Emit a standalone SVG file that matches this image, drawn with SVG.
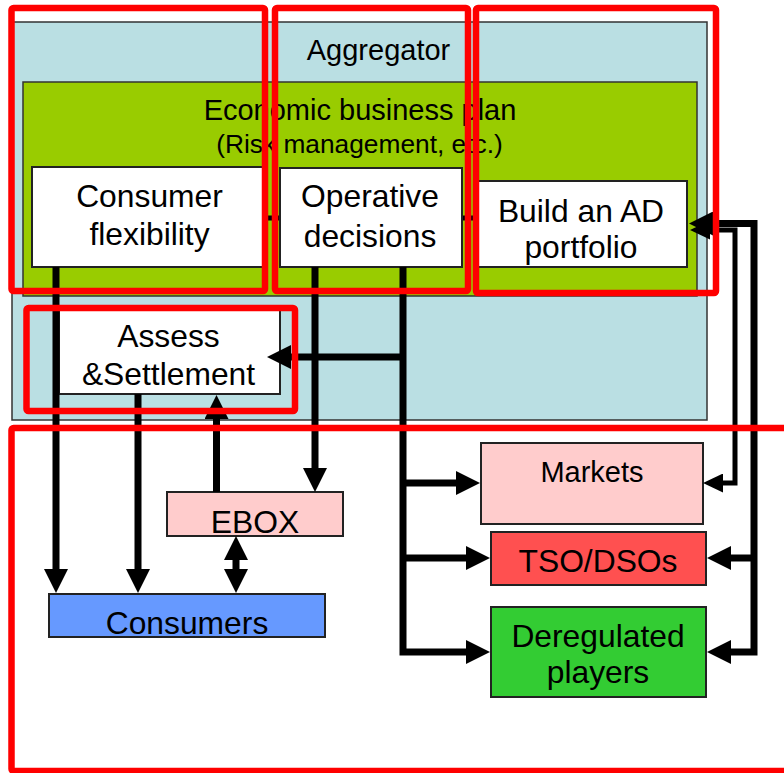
<svg xmlns="http://www.w3.org/2000/svg" width="784" height="773" viewBox="0 0 784 773">
<style>
text{font-family:"Liberation Sans",Arial,sans-serif;fill:#000;text-anchor:middle}
.t31{font-size:31.8px}
.t29{font-size:29px}
.t25{font-size:26.3px}
.box{stroke:#222;stroke-width:2}
.c{fill:none;stroke:#000;stroke-width:7}
.ci{fill:none;stroke:#000;stroke-width:5}
.frame{fill:none;stroke:#ff0000;stroke-width:6.5}
</style>
<defs>
<marker id="ah" markerUnits="userSpaceOnUse" markerWidth="24" markerHeight="24" viewBox="0 0 24 24" refX="1" refY="12" orient="auto-start-reverse">
<path d="M0,0 L24,12 L0,24 z" fill="#000"/>
</marker>
<marker id="ahs" markerUnits="userSpaceOnUse" markerWidth="20" markerHeight="19" viewBox="0 0 20 19" refX="1" refY="9.5" orient="auto-start-reverse">
<path d="M0,0 L20,9.5 L0,19 z" fill="#000"/>
</marker>
</defs>
<rect width="784" height="773" fill="#fff"/>
<g id="aggregator">
<rect x="12" y="22" width="695" height="398" fill="#badfe3" stroke="#333" stroke-width="1.5"/>
<text class="t29" x="378.5" y="60">Aggregator</text>
</g>
<g id="business-plan">
<rect x="23" y="82" width="674" height="214" fill="#99cc00" stroke="#333" stroke-width="1.5"/>
<text class="t29" x="360" y="120">Economic business plan</text>
<text class="t25" x="359.5" y="153">(Risk management, etc.)</text>
</g>
<g id="links-behind">
<line x1="150" y1="218" x2="580" y2="218" stroke="#000" stroke-width="5"/>
</g>
<g id="consumer-flexibility">
<rect class="box" x="32" y="167" width="233" height="100" fill="#fff"/>
<text class="t31" x="149.5" y="207">Consumer</text>
<text class="t31" x="149.5" y="245">flexibility</text>
</g>
<g id="operative-decisions">
<rect class="box" x="280" y="168" width="182" height="99" fill="#fff"/>
<text class="t31" x="370" y="207">Operative</text>
<text class="t31" x="370" y="247">decisions</text>
</g>
<g id="build-portfolio">
<rect class="box" x="478" y="181" width="209" height="86" fill="#fff"/>
<text class="t31" x="581" y="222">Build an AD</text>
<text class="t31" x="581" y="258">portfolio</text>
</g>
<g id="assess-settlement">
<rect class="box" x="59" y="310" width="221" height="84" fill="#fff"/>
<text class="t31" x="168.5" y="347">Assess</text>
<text class="t31" x="168.5" y="385">&amp;Settlement</text>
</g>
<g id="ebox">
<rect class="box" x="167" y="492" width="176" height="44" fill="#ffcccc"/>
<text class="t31" x="255" y="533">EBOX</text>
</g>
<g id="consumers">
<rect class="box" x="49" y="594" width="276" height="43" fill="#6699ff"/>
<text class="t31" x="187" y="634">Consumers</text>
</g>
<g id="markets">
<rect class="box" x="481" y="443" width="222" height="81" fill="#ffcccc"/>
<text class="t29" x="592" y="482">Markets</text>
</g>
<g id="tso-dsos">
<rect class="box" x="491" y="532" width="215" height="53" fill="#ff5050"/>
<text class="t31" x="598" y="572">TSO/DSOs</text>
</g>
<g id="deregulated-players">
<rect class="box" x="491" y="607" width="215" height="90" fill="#33cc33"/>
<text class="t31" x="598" y="647">Deregulated</text>
<text class="t31" x="598" y="683">players</text>
</g>
<g id="connectors">
<path class="c" d="M56 267 V570" marker-end="url(#ah)"/>
<path class="c" d="M138 394 V570" marker-end="url(#ah)"/>
<path class="c" d="M216.5 492 V418" marker-end="url(#ah)"/>
<path class="c" d="M236 559 V570" marker-start="url(#ah)" marker-end="url(#ah)"/>
<path class="c" d="M315 267 V469" marker-end="url(#ah)"/>
<path class="c" d="M403 267 V652 H467" marker-end="url(#ah)"/>
<path class="c" d="M403 357 H290" marker-end="url(#ah)"/>
<path class="c" d="M403 483 H457" marker-end="url(#ah)"/>
<path class="c" d="M403 558 H467" marker-end="url(#ah)"/>
<path class="c" d="M712 223.5 H754 V652 H730" marker-start="url(#ah)" marker-end="url(#ah)"/>
<path class="c" d="M754 558 H730" marker-end="url(#ah)"/>
<path class="ci" d="M709 230 H735 V483 H722" marker-start="url(#ahs)" marker-end="url(#ahs)"/>
</g>
<g id="frames">
<rect class="frame" x="11.5" y="8" width="253.5" height="283" rx="2"/>
<rect class="frame" x="275" y="8" width="193" height="283" rx="2"/>
<rect class="frame" x="476" y="8" width="240" height="285" rx="2"/>
<rect class="frame" x="26.5" y="308" width="268.5" height="103" rx="2"/>
<rect class="frame" x="11.5" y="428" width="790" height="343" rx="2"/>
</g>
</svg>
